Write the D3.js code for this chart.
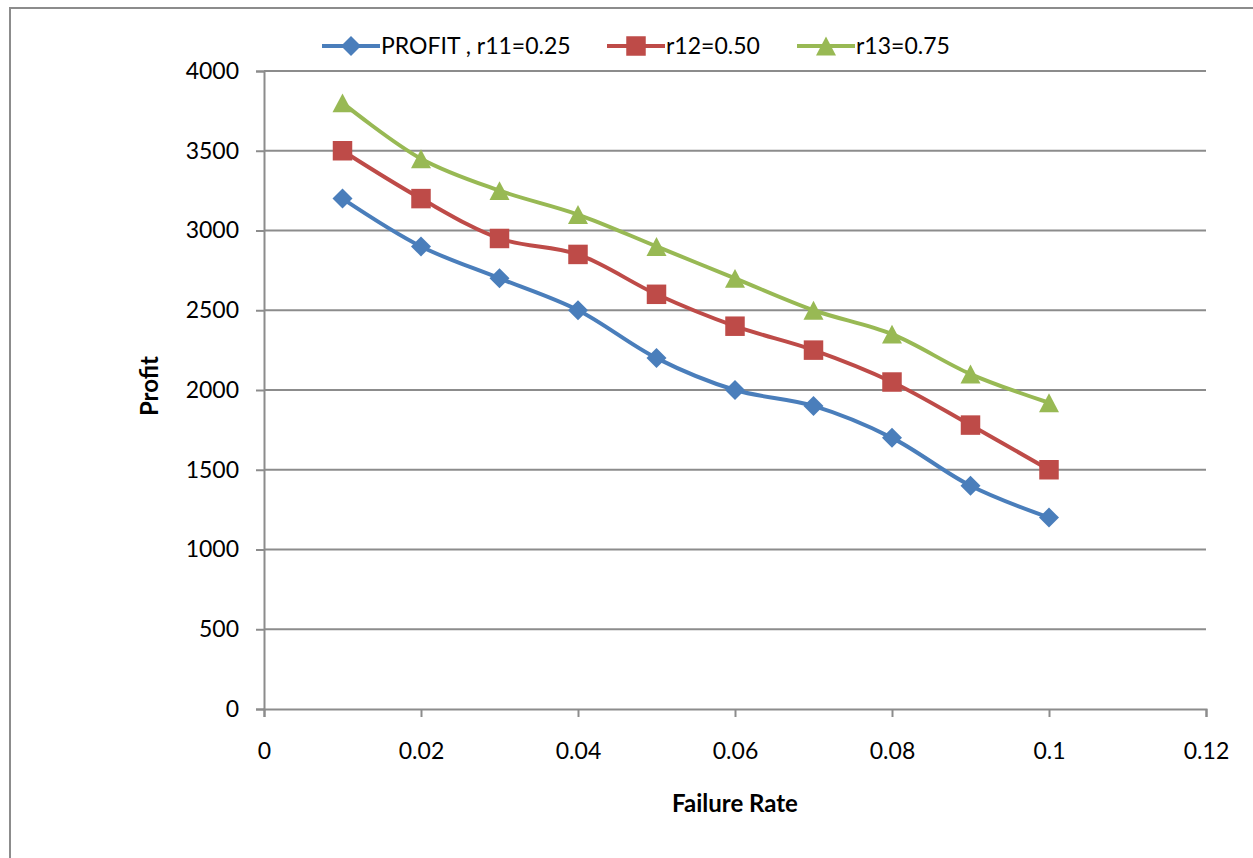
<!DOCTYPE html>
<html>
<head>
<meta charset="utf-8">
<script src="https://cdn.jsdelivr.net/npm/d3@7"></script>
<style>
  html, body { margin: 0; padding: 0; background: #fff; }
  svg { display: block; }
  text { font-family: Lato, "Open Sans", sans-serif; fill: #000; }
</style>
</head>
<body>
<svg id="chart" width="1253" height="858"></svg>
<script>
// Failure rate on the x axis
const failureRates = [0.01, 0.02, 0.03, 0.04, 0.05, 0.06, 0.07, 0.08, 0.09, 0.1];

// Profit for each reliability setting
const profitR11 = [3200, 2900, 2700, 2500, 2200, 2000, 1900, 1700, 1400, 1200];
const profitR12 = [3500, 3200, 2950, 2850, 2600, 2400, 2250, 2050, 1780, 1500];
const profitR13 = [3800, 3450, 3250, 3100, 2900, 2700, 2500, 2350, 2100, 1920];

const seriesNames = ["PROFIT , r11=0.25", "r12=0.50", "r13=0.75"];
const seriesColors = ["#4a7ebb", "#be4b48", "#98b954"];

const xTicks = [0, 0.02, 0.04, 0.06, 0.08, 0.1, 0.12];
const yTicks = [0, 500, 1000, 1500, 2000, 2500, 3000, 3500, 4000];

// Marker shapes: diamond, square, triangle centred on the data point
const triangleSymbol = {
  draw(context, size) {
    const w = Math.sqrt(size) * 0.55, h = Math.sqrt(size) * 0.52;
    context.moveTo(0, -h);
    context.lineTo(w, h);
    context.lineTo(-w, h);
    context.closePath();
  }
};
const seriesSymbols = [d3.symbolDiamond2, d3.symbolSquare, triangleSymbol];
const symbolSizes = [255, 380, 330];

const svg = d3.select("#chart");

// Outer chart frame
svg.append("rect")
  .attr("x", 10).attr("y", 8)
  .attr("width", 1260).attr("height", 870)
  .attr("fill", "none").attr("stroke", "#8c8c8c").attr("stroke-width", 2);

const plot = { left: 264, right: 1206, top: 71, bottom: 709 };

const x = d3.scaleLinear().domain([0, 0.12]).range([plot.left, plot.right]);
const y = d3.scaleLinear().domain([0, 4000]).range([plot.bottom, plot.top]);

// Horizontal gridlines
svg.append("g")
  .selectAll("line")
  .data(yTicks.filter(d => d > 0))
  .join("line")
  .attr("x1", plot.left).attr("x2", plot.right)
  .attr("y1", d => y(d)).attr("y2", d => y(d))
  .attr("stroke", "#8c8c8c").attr("stroke-width", 2);

// Y axis
const yAxis = svg.append("g")
  .attr("transform", `translate(${plot.left},0)`)
  .call(d3.axisLeft(y).tickValues(yTicks).tickSize(8).tickPadding(17).tickFormat(d3.format("d")));
yAxis.select(".domain").attr("stroke", "#8c8c8c").attr("stroke-width", 2);
yAxis.selectAll(".tick line").attr("stroke", "#8c8c8c").attr("stroke-width", 2);
yAxis.selectAll(".tick text").attr("font-size", 23).attr("font-family", "Lato, sans-serif").attr("fill", "#000");

// X axis
const xAxis = svg.append("g")
  .attr("transform", `translate(0,${plot.bottom})`)
  .call(d3.axisBottom(x).tickValues(xTicks).tickSize(8).tickPadding(26).tickFormat(d => String(+d.toFixed(2))));
xAxis.select(".domain").attr("stroke", "#8c8c8c").attr("stroke-width", 2);
xAxis.selectAll(".tick line").attr("stroke", "#8c8c8c").attr("stroke-width", 2);
xAxis.selectAll(".tick text").attr("font-size", 23).attr("font-family", "Lato, sans-serif").attr("fill", "#000");

// Axis titles
svg.append("text")
  .attr("x", (plot.left + plot.right) / 2).attr("y", 812)
  .attr("text-anchor", "middle")
  .attr("font-size", 24).attr("font-weight", "bold")
  .text("Failure Rate");

svg.append("text")
  .attr("transform", `translate(158,386) rotate(-90)`)
  .attr("text-anchor", "middle")
  .attr("font-size", 24).attr("font-weight", "bold")
  .text("Profit");

// Series lines and markers
const allSeries = [profitR11, profitR12, profitR13];
const line = d3.line()
  .x((d, i) => x(failureRates[i]))
  .y(d => y(d))
  .curve(d3.curveCatmullRom.alpha(0.5));

allSeries.forEach((vals, si) => {
  const g = svg.append("g");
  g.append("path")
    .datum(vals)
    .attr("d", line)
    .attr("fill", "none")
    .attr("stroke", seriesColors[si])
    .attr("stroke-width", 4)
    .attr("stroke-linejoin", "round");
  g.selectAll("path.marker")
    .data(vals)
    .join("path")
    .attr("class", "marker")
    .attr("transform", (d, i) => `translate(${x(failureRates[i])},${y(d)})`)
    .attr("d", d3.symbol().type(seriesSymbols[si]).size(symbolSizes[si]))
    .attr("fill", seriesColors[si]);
});

// Legend
const legendX = [322, 607, 797];
const legendY = 46;
seriesNames.forEach((name, si) => {
  const g = svg.append("g").attr("transform", `translate(${legendX[si]},${legendY})`);
  g.append("line")
    .attr("x1", 0).attr("x2", 58).attr("y1", 0).attr("y2", 0)
    .attr("stroke", seriesColors[si]).attr("stroke-width", 4);
  g.append("path")
    .attr("transform", "translate(29,0)")
    .attr("d", d3.symbol().type(seriesSymbols[si]).size(symbolSizes[si]))
    .attr("fill", seriesColors[si]);
  g.append("text")
    .attr("x", 59).attr("y", 8)
    .attr("font-size", 23)
    .text(name);
});
</script>
</body>
</html>
